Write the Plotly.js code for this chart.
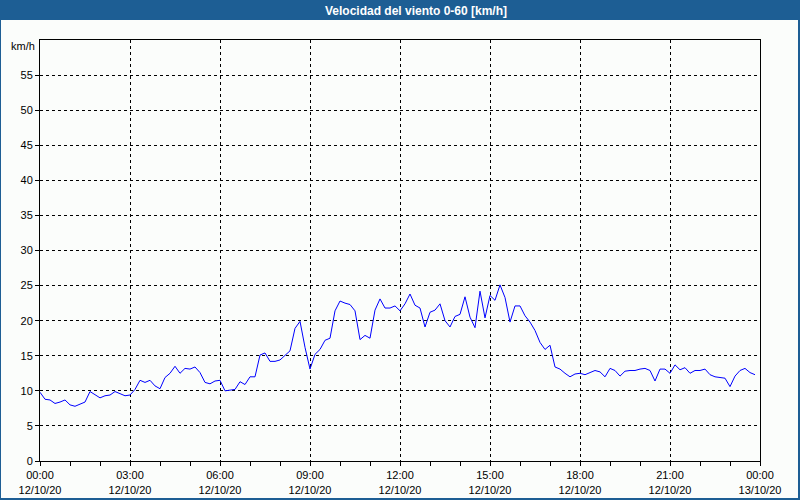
<!DOCTYPE html>
<html>
<head>
<meta charset="utf-8">
<script src="https://cdn.plot.ly/plotly-3.0.1.min.js"></script>
<style>
  html, body { margin: 0; padding: 0; background: #fbfdfb; }
  #chart { width: 800px; height: 500px; }
</style>
</head>
<body>
<div id="chart"></div>
<script>
// ---- Data ----
const chartTitle = "Velocidad del viento 0-60 [km/h]";
const unitLabel = "km/h";
const startTime = "2020-10-12 00:00";
const intervalMinutes = 10;
const windSpeed = [
  9.8, 8.8, 8.7, 8.2, 8.4, 8.7, 8.0, 7.8, 8.1, 8.4, 9.9, 9.4,
  9.0, 9.3, 9.4, 9.9, 9.6, 9.3, 9.4, 10.2, 11.5, 11.2, 11.5, 10.7,
  10.3, 11.9, 12.5, 13.5, 12.5, 13.2, 13.1, 13.4, 12.6, 11.2, 11.0, 11.4,
  11.5, 10.0, 10.1, 10.2, 11.3, 10.9, 12.0, 12.0, 15.1, 15.4, 14.2, 14.2,
  14.4, 15.0, 15.7, 18.9, 19.9, 16.2, 13.1, 15.2, 15.9, 17.2, 17.5, 21.4,
  22.8, 22.5, 22.3, 21.4, 17.3, 17.9, 17.5, 21.5, 23.1, 21.8, 21.8, 22.1,
  21.4, 22.4, 23.8, 22.2, 21.8, 19.1, 21.2, 21.5, 22.4, 20.0, 19.1, 20.6,
  20.9, 23.4, 20.5, 19.0, 24.2, 20.4, 23.6, 22.9, 25.1, 23.3, 19.8, 22.1,
  22.1, 20.7, 19.8, 18.6, 16.9, 15.9, 16.5, 13.4, 13.1, 12.5, 12.0, 12.4,
  12.5, 12.3, 12.6, 12.9, 12.7, 12.0, 13.2, 12.9, 12.1, 12.8, 12.9, 12.9,
  13.1, 13.2, 12.9, 11.4, 13.1, 13.1, 12.5, 13.7, 13.0, 13.3, 12.5, 12.9,
  12.9, 13.1, 12.3, 12.0, 11.9, 11.8, 10.6, 12.1, 12.9, 13.2, 12.6, 12.3
];
const xTickVals = [
  "2020-10-12 00:00", "2020-10-12 03:00", "2020-10-12 06:00", "2020-10-12 09:00",
  "2020-10-12 12:00", "2020-10-12 15:00", "2020-10-12 18:00", "2020-10-12 21:00",
  "2020-10-13 00:00"
];
const xTickText = [
  "00:00<br>12/10/20", "03:00<br>12/10/20", "06:00<br>12/10/20", "09:00<br>12/10/20",
  "12:00<br>12/10/20", "15:00<br>12/10/20", "18:00<br>12/10/20", "21:00<br>12/10/20",
  "00:00<br>13/10/20"
];
const yTickVals = [0, 5, 10, 15, 20, 25, 30, 35, 40, 45, 50, 55];

// ---- Build timestamps ----
function pad(n) { return (n < 10 ? "0" : "") + n; }
const t0 = Date.UTC(2020, 9, 12, 0, 0);
const times = windSpeed.map((_, i) => {
  const d = new Date(t0 + i * intervalMinutes * 60000);
  return d.getUTCFullYear() + "-" + pad(d.getUTCMonth() + 1) + "-" + pad(d.getUTCDate()) +
    " " + pad(d.getUTCHours()) + ":" + pad(d.getUTCMinutes());
});

const bg = "#fbfdfb";
const frameBlue = "#1d5e94";
const tickFont = { family: "Liberation Sans, Arial, sans-serif", size: 11, color: "#000000" };

const trace = {
  x: times,
  y: windSpeed,
  type: "scatter",
  mode: "lines",
  line: { color: "#0000ff", width: 1 },
  hoverinfo: "x+y"
};

// plot area: x 40..760 (720 px), y 40..461 (421 px)
const W = 720, H = 421;
const layout = {
  width: 800,
  height: 500,
  paper_bgcolor: bg,
  plot_bgcolor: bg,
  margin: { l: 40, r: 40, t: 40, b: 39, pad: 0 },
  showlegend: false,
  title: {
    text: chartTitle,
    font: { family: "Liberation Sans, Arial, sans-serif", size: 12, color: "#ffffff", weight: "bold" },
    xref: "container", x: 0.52, xanchor: "center",
    yref: "container", y: 1 - 10.5 / 500, yanchor: "middle"
  },
  xaxis: {
    type: "date",
    range: [xTickVals[0], xTickVals[xTickVals.length - 1]],
    tickmode: "array",
    tickvals: xTickVals,
    ticktext: xTickText,
    tickfont: tickFont,
    ticks: "outside",
    ticklen: 4,
    tickcolor: "#000000",
    showline: true,
    linecolor: "#000000",
    linewidth: 1,
    mirror: true,
    showgrid: true,
    gridcolor: "#000000",
    gridwidth: 1,
    griddash: "3px,3px",
    zeroline: false,
    fixedrange: true,
    minor: {
      dtick: 3600000,
      tick0: xTickVals[0],
      ticks: "outside",
      ticklen: 4,
      tickcolor: "#000000",
      showgrid: false
    }
  },
  yaxis: {
    range: [0, 60],
    tickmode: "array",
    tickvals: yTickVals,
    tickfont: tickFont,
    ticks: "outside",
    ticklen: 4,
    tickcolor: "#000000",
    showline: true,
    linecolor: "#000000",
    linewidth: 1,
    mirror: true,
    showgrid: true,
    gridcolor: "#000000",
    gridwidth: 1,
    griddash: "3px,3px",
    zeroline: false,
    fixedrange: true
  },
  annotations: [{
    text: unitLabel,
    xref: "paper", yref: "paper",
    x: 0, y: 1,
    xanchor: "right", yanchor: "middle",
    xshift: -3, yshift: -6,
    showarrow: false,
    font: tickFont
  }],
  shapes: [
    // title bar
    { type: "rect", xref: "paper", yref: "paper", layer: "below",
      x0: -40 / W, x1: 760 / W, y0: (461 - 20) / H, y1: 461 / H,
      fillcolor: frameBlue, line: { width: 0 } },
    // left border
    { type: "rect", xref: "paper", yref: "paper", layer: "below",
      x0: -40 / W, x1: -39 / W, y0: -39 / H, y1: 461 / H,
      fillcolor: frameBlue, line: { width: 0 } },
    // right border
    { type: "rect", xref: "paper", yref: "paper", layer: "below",
      x0: 758 / W, x1: 760 / W, y0: -39 / H, y1: 461 / H,
      fillcolor: frameBlue, line: { width: 0 } },
    // bottom border
    { type: "rect", xref: "paper", yref: "paper", layer: "below",
      x0: -40 / W, x1: 760 / W, y0: -39 / H, y1: -37 / H,
      fillcolor: frameBlue, line: { width: 0 } }
  ]
};

Plotly.newPlot("chart", [trace], layout, { displayModeBar: false, staticPlot: true });
</script>
</body>
</html>
